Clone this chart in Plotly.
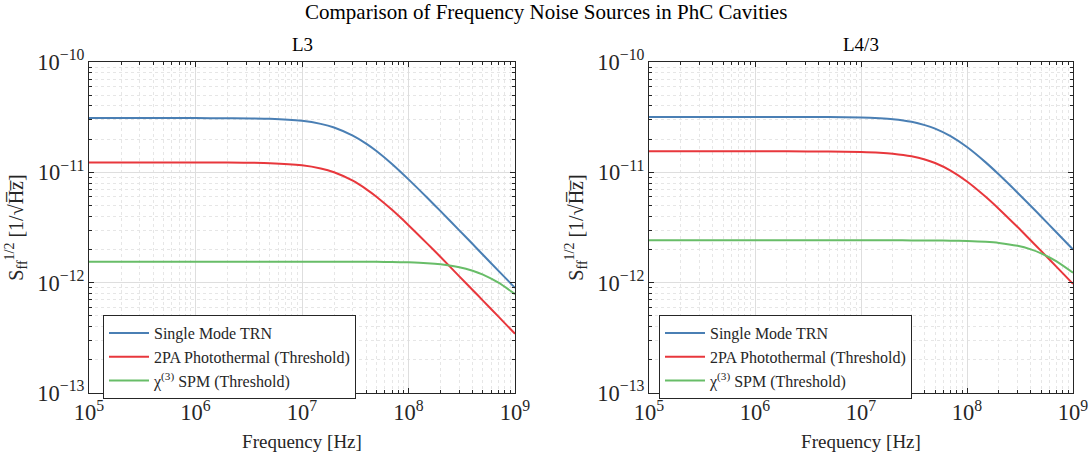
import plotly.graph_objects as go

freq = [1e5, 1e6, 2e6, 5e6, 1e7, 1.5e7, 2e7, 3e7, 4e7, 5e7, 7e7, 1e8,
        1.5e8, 2e8, 3e8, 4e8, 5e8, 7e8, 1e9]

l3_trn = [3.10e-11, 3.10e-11, 3.09e-11, 3.06e-11, 2.93e-11, 2.75e-11, 2.55e-11,
          2.15e-11, 1.82e-11, 1.56e-11, 1.19e-11, 8.63e-12, 5.88e-12, 4.45e-12,
          2.98e-12, 2.24e-12, 1.79e-12, 1.28e-12, 8.98e-13]
l3_2pa = [1.23e-11, 1.23e-11, 1.227e-11, 1.211e-11, 1.158e-11, 1.084e-11, 1.001e-11,
          8.39e-12, 7.05e-12, 6.01e-12, 4.57e-12, 3.32e-12, 2.26e-12, 1.71e-12,
          1.14e-12, 8.59e-13, 6.88e-13, 4.92e-13, 3.44e-13]
l3_spm = [1.55e-12, 1.55e-12, 1.55e-12, 1.55e-12, 1.55e-12, 1.55e-12, 1.549e-12,
          1.548e-12, 1.546e-12, 1.544e-12, 1.539e-12, 1.528e-12, 1.502e-12, 1.468e-12,
          1.382e-12, 1.283e-12, 1.183e-12, 9.99e-13, 7.88e-13]

l43_trn = [3.18e-11, 3.18e-11, 3.178e-11, 3.17e-11, 3.14e-11, 3.09e-11, 3.03e-11,
           2.87e-11, 2.68e-11, 2.49e-11, 2.13e-11, 1.695e-11, 1.231e-11, 9.55e-12,
           6.54e-12, 4.95e-12, 3.98e-12, 2.85e-12, 2.00e-12]
l43_2pa = [1.55e-11, 1.55e-11, 1.549e-11, 1.545e-11, 1.531e-11, 1.508e-11, 1.477e-11,
           1.399e-11, 1.309e-11, 1.214e-11, 1.037e-11, 8.26e-12, 6.00e-12, 4.66e-12,
           3.19e-12, 2.41e-12, 1.94e-12, 1.39e-12, 9.75e-13]
l43_spm = [2.42e-12, 2.42e-12, 2.42e-12, 2.42e-12, 2.42e-12, 2.42e-12, 2.419e-12,
           2.417e-12, 2.414e-12, 2.411e-12, 2.403e-12, 2.386e-12, 2.345e-12, 2.292e-12,
           2.157e-12, 2.003e-12, 1.846e-12, 1.559e-12, 1.230e-12]

names = ["Single Mode TRN", "2PA Photothermal (Threshold)", "χ<sup>(3)</sup> SPM (Threshold)"]
colors = ["#4a7fb4", "#e8373c", "#68bd68"]
panel_titles = ["L3", "L4/3"]
fig_title = "Comparison of Frequency Noise Sources in PhC Cavities"
x_title = "Frequency [Hz]"
y_title = "S<sub>ff</sub><sup>1/2</sup> [1/√H\u0305z\u0305]"

FONT = "Liberation Serif, Times New Roman, Times, serif"
TXT = "#262626"

fig = go.Figure()
panels = [(l3_trn, l3_2pa, l3_spm), (l43_trn, l43_2pa, l43_spm)]
for p, series in enumerate(panels):
    xa = "x" if p == 0 else "x2"
    ya = "y" if p == 0 else "y2"
    lg = "legend" if p == 0 else "legend2"
    for name, col, vals in zip(names, colors, series):
        fig.add_trace(go.Scatter(
            x=freq, y=vals, mode="lines", name=name,
            line=dict(color=col, width=2, shape="spline", smoothing=0.6),
            xaxis=xa, yaxis=ya, legend=lg, showlegend=True))

grid_major = "#dedede"
grid_minor = "#e6e6e6"

def xaxis_cfg(domain, anchor):
    return dict(type="log", domain=domain, anchor=anchor, range=[5, 9], dtick=1,
                exponentformat="power", showexponent="all", automargin=False,
                ticks="inside", ticklen=5, tickcolor=TXT, mirror="allticks",
                showline=True, linecolor=TXT, linewidth=1,
                showgrid=True, gridcolor=grid_major, gridwidth=1,
                minor=dict(ticks="inside", ticklen=3, tickcolor=TXT, showgrid=True,
                           gridcolor=grid_minor, griddash="dot", gridwidth=1),
                tickfont=dict(family=FONT, size=18, color=TXT),
                title=dict(text=x_title, font=dict(family=FONT, size=19, color=TXT), standoff=10),
                zeroline=False)

def yaxis_cfg(domain, anchor):
    return dict(type="log", domain=domain, anchor=anchor, range=[-13, -10], dtick=1,
                exponentformat="power", showexponent="all", automargin=False,
                ticks="inside", ticklen=5, tickcolor=TXT, mirror="allticks",
                showline=True, linecolor=TXT, linewidth=1,
                showgrid=True, gridcolor=grid_major, gridwidth=1,
                minor=dict(ticks="inside", ticklen=3, tickcolor=TXT, showgrid=True,
                           gridcolor=grid_minor, griddash="dot", gridwidth=1),
                tickfont=dict(family=FONT, size=18, color=TXT),
                title=dict(text=y_title, font=dict(family=FONT, size=20, color=TXT), standoff=8),
                zeroline=False)

ydom = [65 / 458, 396 / 458]
legend_common = dict(xanchor="left", yanchor="top", bgcolor="white", bordercolor=TXT,
                     borderwidth=1, font=dict(family=FONT, size=16, color=TXT),
                     tracegroupgap=0, itemwidth=40)
fig.update_layout(
    width=1091, height=458,
    margin=dict(l=0, r=0, t=0, b=0, autoexpand=False),
    paper_bgcolor="white", plot_bgcolor="white",
    font=dict(family=FONT, color=TXT),
    xaxis=xaxis_cfg([89 / 1091, 515 / 1091], "y"),
    yaxis=yaxis_cfg(ydom, "x"),
    xaxis2=xaxis_cfg([649 / 1091, 1073 / 1091], "y2"),
    yaxis2=yaxis_cfg(ydom, "x2"),
    legend=dict(x=103 / 1091, y=(458 - 315) / 458, **legend_common),
    legend2=dict(x=659 / 1091, y=(458 - 315) / 458, **legend_common),
    showlegend=True,
    annotations=[
        dict(text=fig_title, x=0.5, y=1 - 12 / 458, xref="paper", yref="paper",
             showarrow=False, font=dict(family=FONT, size=21, color="black"),
             xanchor="center", yanchor="middle"),
        dict(text=panel_titles[0], x=302 / 1091, y=1 - 45 / 458, xref="paper", yref="paper",
             showarrow=False, font=dict(family=FONT, size=19, color="black"),
             xanchor="center", yanchor="middle"),
        dict(text=panel_titles[1], x=861 / 1091, y=1 - 45 / 458, xref="paper", yref="paper",
             showarrow=False, font=dict(family=FONT, size=19, color="black"),
             xanchor="center", yanchor="middle"),
    ],
)

fig.write_html("out.html")
